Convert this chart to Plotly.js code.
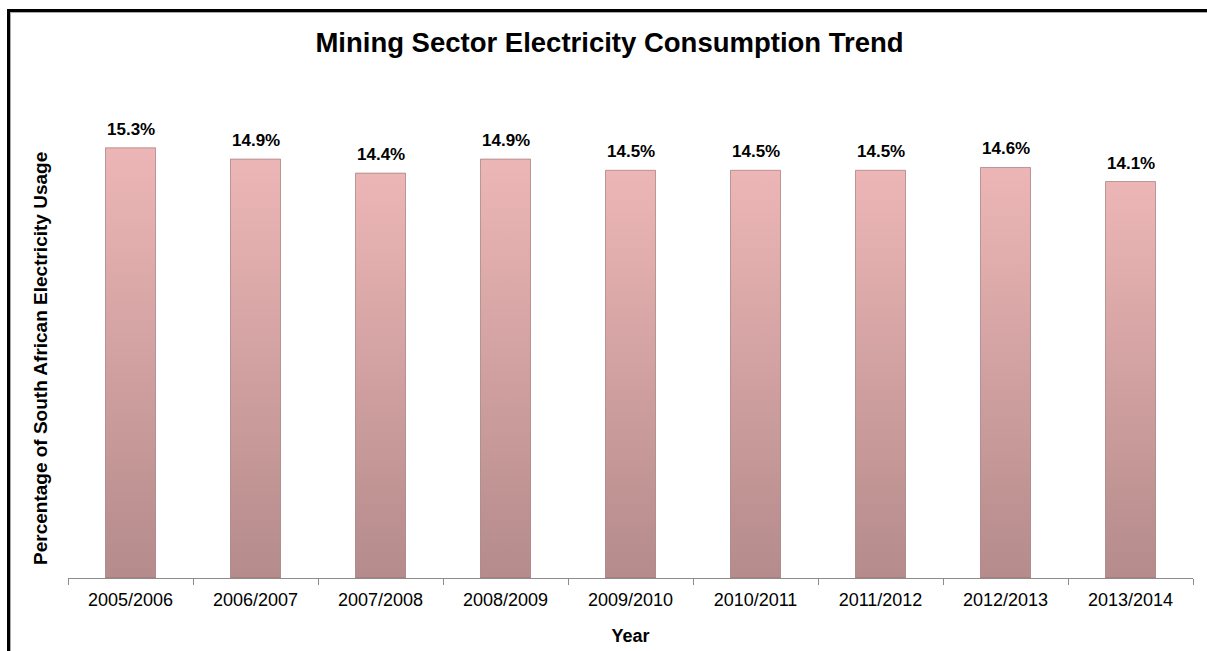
<!DOCTYPE html>
<html>
<head>
<meta charset="utf-8">
<script src="https://cdn.plot.ly/plotly-3.0.1.min.js"></script>
<style>
html,body{margin:0;padding:0;background:#fff;}
#chart{width:1207px;height:651px;position:relative;}
#frame{position:absolute;left:7px;top:9px;width:1300px;height:1000px;border-left:3px solid #000;border-top:3px solid #000;box-shadow:inset 1px 1px 0 #aaa;pointer-events:none;}
#wrap{position:relative;width:1207px;height:651px;overflow:hidden;}
</style>
</head>
<body>
<div id="wrap"><div id="chart"></div><div id="frame"></div></div>
<script>
const years = ["2005/2006","2006/2007","2007/2008","2008/2009","2009/2010","2010/2011","2011/2012","2012/2013","2013/2014"];
const shares = [15.3, 14.9, 14.4, 14.9, 14.5, 14.5, 14.5, 14.6, 14.1];
const labels = ["15.3%","14.9%","14.4%","14.9%","14.5%","14.5%","14.5%","14.6%","14.1%"];

const halfW = 0.2;
const FONT = 'Liberation Sans, Arial, sans-serif';
const traces = [];
traces.push({
  type: 'bar', x: years, y: shares, xaxis: 'x', yaxis: 'y',
  marker: {color: 'rgba(0,0,0,0)'}, hoverinfo: 'skip', showlegend: false, width: 0.4
});
years.forEach((yr, i) => {
  const v = shares[i];
  traces.push({
    type: 'scatter', mode: 'lines', xaxis: 'x2', yaxis: 'y',
    x: [i - halfW, i + halfW, i + halfW, i - halfW, i - halfW],
    y: [0, 0, v, v, 0],
    fill: 'toself',
    fillgradient: {type: 'vertical', colorscale: [[0, '#B58B8B'], [1, '#EDB6B6']]},
    line: {color: 'rgba(140,95,95,0.55)', width: 1},
    hoverinfo: 'skip', showlegend: false
  });
});

const annotations = years.map((yr, i) => ({
  x: i, y: shares[i], xref: 'x2', yref: 'y',
  text: '<b>' + labels[i] + '</b>', showarrow: false,
  yanchor: 'bottom', yshift: 7,
  font: {family: FONT, size: 17, color: '#000'}
}));
annotations.push({
  xref: 'paper', yref: 'paper', x: -0.025, y: 0.46, xanchor: 'center', yanchor: 'middle',
  textangle: -90, showarrow: false,
  text: '<b>Percentage of South African Electricity Usage</b>',
  font: {family: FONT, size: 19, color: '#000'}
});

const layout = {
  width: 1207, height: 651,
  margin: {l: 68, r: 14, t: 100, b: 73},
  paper_bgcolor: '#fff', plot_bgcolor: '#fff',
  showlegend: false,
  title: {
    text: '<b>Mining Sector Electricity Consumption Trend</b>',
    x: 0.505, xanchor: 'center', y: 0.935, yanchor: 'middle',
    font: {family: FONT, size: 27.5, color: '#000'}
  },
  xaxis: {
    type: 'category', categoryorder: 'array', categoryarray: years,
    range: [-0.5, 8.5], showgrid: false, zeroline: false,
    showline: true, linecolor: '#8c8c8c', linewidth: 1,
    ticks: 'outside', tickson: 'boundaries', ticklen: 6, tickcolor: '#8c8c8c',
    ticklabelstandoff: 5,
    tickfont: {family: FONT, size: 18, color: '#000'},
    title: {text: '<b>Year</b>', standoff: 20, font: {family: FONT, size: 18, color: '#000'}},
    fixedrange: true
  },
  xaxis2: {
    overlaying: 'x', range: [-0.5, 8.5], visible: false, showgrid: false, zeroline: false
  },
  yaxis: {
    range: [0, 17], showgrid: false, zeroline: false, showline: false,
    showticklabels: false, ticks: ''
  },
  annotations: annotations
};

Plotly.newPlot('chart', traces, layout, {displayModeBar: false, staticPlot: true});
</script>
</body>
</html>
